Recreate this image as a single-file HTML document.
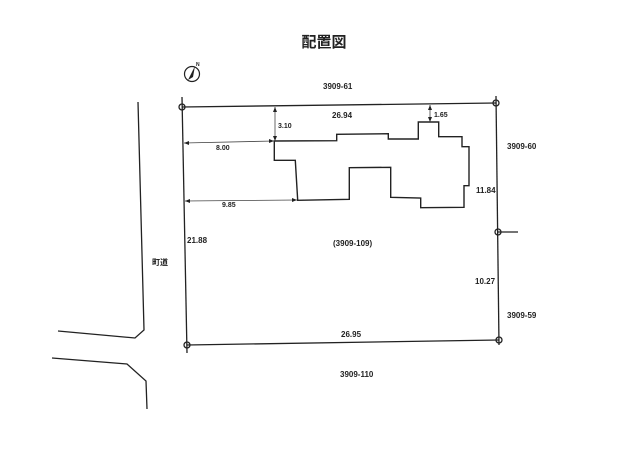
<!DOCTYPE html>
<html><head><meta charset="utf-8"><style>
html,body{margin:0;padding:0;background:#fff;}
svg{display:block;}
text{font-family:"Liberation Sans","Noto Sans CJK JP",sans-serif;font-weight:bold;fill:#222;}
</style></head><body>
<svg width="640" height="452" viewBox="0 0 640 452" xmlns="http://www.w3.org/2000/svg">
<text x="324" y="47" font-size="15" text-anchor="middle" font-weight="bold">配置図</text>
<!-- compass -->
<circle cx="192" cy="74" r="7.5" fill="none" stroke="#222" stroke-width="1.2"/>
<polygon points="195,66 188,80 193,77" fill="#222"/>
<text x="196" y="66" font-size="5">N</text>
<!-- road -->
<polyline points="138,102 144,330 135,338 58,331" fill="none" stroke="#222" stroke-width="1.3"/>
<polyline points="52,358 127,364 146,381 147,409" fill="none" stroke="#222" stroke-width="1.3"/>
<text x="160" y="265" font-size="8" text-anchor="middle" font-weight="normal">町道</text>
<!-- lot -->
<g stroke="#222" stroke-width="1.3" fill="none">
<line x1="182" y1="107" x2="496" y2="103"/>
<line x1="496" y1="96" x2="499" y2="345"/>
<line x1="187" y1="345" x2="499" y2="340"/>
<line x1="182" y1="97" x2="187" y2="353"/>
<line x1="498" y1="232" x2="518" y2="232"/>
<circle cx="182" cy="107" r="3"/><circle cx="496" cy="103" r="3"/>
<circle cx="499" cy="340" r="3"/><circle cx="187" cy="345" r="3"/>
<circle cx="498" cy="232" r="3"/>
</g>
<!-- building -->
<polygon points="274.3,141 336.7,140.7 336.7,134.3 388.3,133.7 388.3,139 418.3,139 418.3,122 438.7,122 438.7,136.7 462,136.7 462,146.7 469,146.7 469,185.7 464,185.7 464,207.3 420.7,207.7 420.7,198 390.7,197.3 390.7,167.3 349.3,167.7 349.3,199.3 297.7,200.3 295.3,160.3 274.3,160.3" fill="none" stroke="#222" stroke-width="1.4"/>
<!-- dims -->
<g stroke="#444" stroke-width="0.8">
<line x1="184" y1="143" x2="274" y2="141"/>
<line x1="185" y1="201" x2="297" y2="200"/>
<line x1="275" y1="107" x2="275" y2="141"/>
<line x1="430" y1="105" x2="430" y2="122"/>
</g>
<g fill="#222">
<polygon points="184,143 189,141 189,145"/><polygon points="274,141 269,139 269,143"/>
<polygon points="185,201 190,199 190,203"/><polygon points="297,200 292,198 292,202"/>
<polygon points="275,107 273,112 277,112"/><polygon points="275,141 273,136 277,136"/>
<polygon points="430,105 428,110 432,110"/><polygon points="430,122 428,117 432,117"/>
</g>
<g font-size="7">
<text x="216" y="150">8.00</text>
<text x="222" y="207">9.85</text>
<text x="278" y="128">3.10</text>
<text x="434" y="117">1.65</text>
</g>
<g font-size="8">
<text x="323" y="89">3909-61</text>
<text x="332" y="118">26.94</text>
<text x="507" y="149">3909-60</text>
<text x="476" y="193">11.84</text>
<text x="333" y="246">(3909-109)</text>
<text x="187" y="243">21.88</text>
<text x="475" y="284">10.27</text>
<text x="507" y="318">3909-59</text>
<text x="341" y="337">26.95</text>
<text x="340" y="377">3909-110</text>
</g>
</svg>
</body></html>
